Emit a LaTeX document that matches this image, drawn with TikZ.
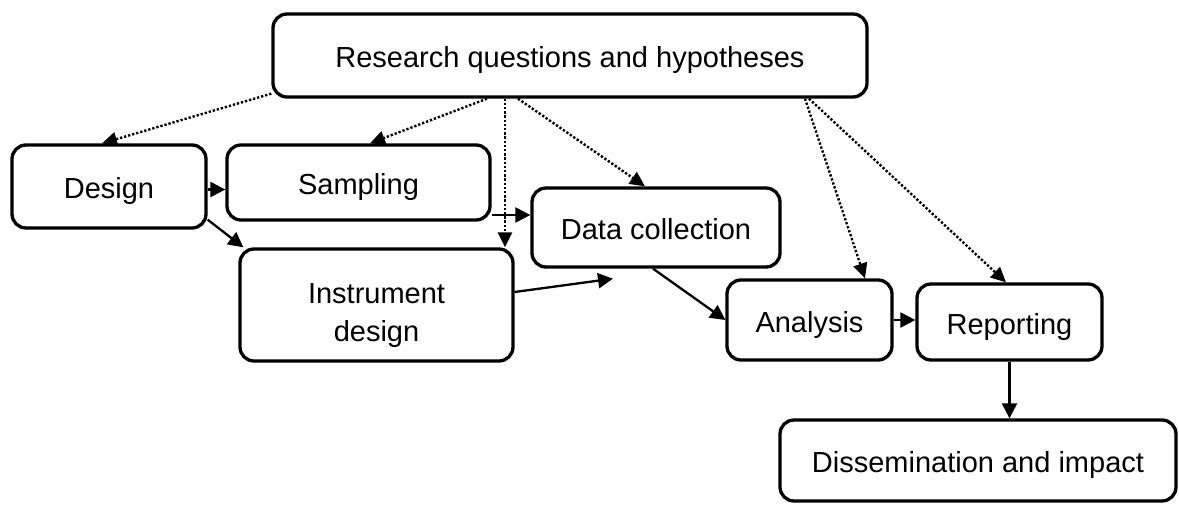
\documentclass[tikz,border=0pt]{standalone}
\usepackage{fontspec}
\setmainfont{Liberation Sans}
\usetikzlibrary{arrows.meta}
\begin{document}
\begin{tikzpicture}[x=1pt,y=-1pt,
  box/.style={draw, line width=3.3pt, rounded corners=14pt, inner sep=0pt,
    font=\fontsize{29}{38}\selectfont, text height=26pt, text depth=1.5pt},
  boxtext/.style={inner sep=0pt, align=center, font=\fontsize{29}{38}\selectfont},
  solidarrow/.style={line width=2.3pt, -{Triangle[length=15pt,width=15pt]}},
  dotarrow/.style={line width=2.4pt, dash pattern=on 2.3pt off 1.9pt,
    -{Triangle[length=15pt,width=14pt]}}]
\useasboundingbox (0,0) rectangle (1179,504);

\node[box, minimum width=594pt, minimum height=83pt] (rq) at (570,55.5) {Research questions and hypotheses};
\node[box, minimum width=194pt, minimum height=83pt] (design) at (109,186.5) {Design};
\node[box, minimum width=263pt, minimum height=75pt] (sampling) at (358.5,182.5) {Sampling};
\node[box, minimum width=248pt, minimum height=79pt] (data) at (656,227.5) {Data collection};
\node[box, minimum width=273pt, minimum height=112pt] (instr) at (376.5,305) {};
\node[boxtext] (instrtxt) at (376.5,316) {Instrument\\design};
\node[box, minimum width=165pt, minimum height=80pt] (analysis) at (809.5,320) {Analysis};
\node[box, minimum width=185pt, minimum height=76pt] (reporting) at (1009.5,322) {Reporting};
\node[box, minimum width=396pt, minimum height=81pt] (dissem) at (978,460.5) {Dissemination and impact};

% solid connectors
\draw[solidarrow] ([yshift=-3pt]design.east) -- ([yshift=-3pt]design.east -| sampling.west);
\draw[solidarrow] ([yshift=-32.5pt]sampling.east) -- ([yshift=-32.5pt]sampling.east -| data.west);
\draw[solidarrow] ([yshift=10pt]design.south east) -- ([xshift=5pt]instr.north west);
\coordinate (instrend) at ([shift={(-43,10)}]data.south);
\draw[solidarrow] ([yshift=13pt]instr.east) -- (instrend);
\draw[solidarrow] ([xshift=-3pt]data.south) -- (analysis.west);
\draw[solidarrow] (analysis.east) -- (analysis.east -| reporting.west);
\draw[solidarrow] (reporting.south) -- (reporting.south |- dissem.north);

% dotted connectors
\draw[dotarrow] ([yshift=5pt]rq.south west) -- ([xshift=-7pt]design.north);
\draw[dotarrow] ([xshift=-83pt]rq.south) -- ([xshift=11.5pt]sampling.north);
\draw[dotarrow] ([xshift=-65pt]rq.south) -- ([xshift=128.5pt]instr.north);
\draw[dotarrow] ([xshift=-52pt]rq.south) -- ([xshift=-11pt]data.north);
\draw[dotarrow] ([xshift=235pt]rq.south) -- ([xshift=55.5pt]analysis.north);
\draw[dotarrow] ([xshift=239pt]rq.south) -- ([xshift=-3.5pt]reporting.north);
\end{tikzpicture}
\end{document}
